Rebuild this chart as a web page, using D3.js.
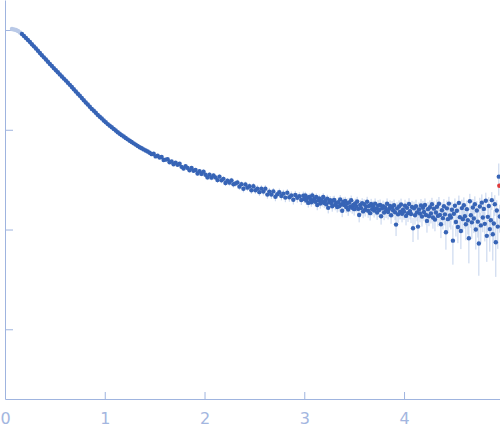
<!DOCTYPE html>
<meta charset="utf-8">
<head>
	<title>scattering curve</title>
</head>

<style>

body {
	margin: 0;
	background: #fff;
}

svg {
	display: block;
}

.axis path,
.axis line {
	stroke: #9fb4df;
	stroke-width: 1;
	fill: none;
}

.axis text {
	fill: #a3b6e0;
	font-family: "DejaVu Sans", sans-serif;
	font-size: 16px;
}

</style>

<body>

<svg class="chart" width="500" height="437"></svg>

<script src="https://cdnjs.cloudflare.com/ajax/libs/d3/7.8.5/d3.min.js"></script>
<script>

// points left out of the fit (drawn pale)
var excludedQ = [0.07, 0.09, 0.11, 0.13, 0.15];
var excludedI = [1.023, 1.012, 1.000, 0.977, 0.944];
var excludedSigma = [0.010, 0.010, 0.010, 0.010, 0.009];

// one flagged point at the end of the curve
var flaggedQ = [4.955];
var flaggedI = [0.0275];

// measured curve: q, intensity, error
var qValues = [
	0.17,0.19,0.21,0.23,0.25,0.27,0.29,0.31,0.33,0.35,
	0.37,0.39,0.41,0.43,0.45,0.47,0.49,0.51,0.53,0.55,
	0.57,0.59,0.61,0.63,0.65,0.67,0.69,0.71,0.73,0.75,
	0.77,0.79,0.81,0.83,0.85,0.87,0.89,0.91,0.93,0.95,
	0.97,0.99,1.01,1.03,1.05,1.07,1.09,1.11,1.13,1.15,
	1.17,1.19,1.21,1.23,1.25,1.27,1.29,1.31,1.33,1.35,
	1.37,1.39,1.41,1.43,1.45,1.47,1.49,1.51,1.53,1.55,
	1.57,1.59,1.61,1.63,1.65,1.67,1.69,1.71,1.73,1.75,
	1.77,1.79,1.81,1.83,1.85,1.87,1.89,1.91,1.93,1.95,
	1.97,1.99,2.01,2.03,2.05,2.07,2.09,2.11,2.13,2.15,
	2.17,2.19,2.21,2.23,2.25,2.27,2.29,2.31,2.33,2.35,
	2.37,2.39,2.41,2.43,2.45,2.47,2.49,2.51,2.53,2.55,
	2.57,2.59,2.61,2.63,2.65,2.67,2.69,2.71,2.73,2.75,
	2.77,2.79,2.81,2.83,2.85,2.87,2.89,2.91,2.93,2.95,
	2.97,2.99,
	3.00,3.01,3.02,3.03,3.04,3.05,3.06,3.07,3.08,3.09,
	3.10,3.11,3.12,3.13,3.14,3.15,3.16,3.17,3.18,3.19,
	3.20,3.21,3.22,3.23,3.24,3.25,3.26,3.27,3.28,3.29,
	3.30,3.31,3.32,3.33,3.34,3.35,3.36,3.37,3.38,3.39,
	3.40,3.41,3.42,3.43,3.44,3.45,3.46,3.47,3.48,3.49,
	3.50,3.51,3.52,3.53,3.54,3.55,3.56,3.57,3.58,3.59,
	3.60,3.61,3.62,3.63,3.64,3.65,3.66,3.67,3.68,3.69,
	3.70,3.71,3.72,3.73,3.74,3.75,3.76,3.77,3.78,3.79,
	3.80,3.81,3.82,3.83,3.84,3.85,3.86,3.87,3.88,3.89,
	3.90,3.91,3.92,3.93,3.94,3.95,3.96,3.97,3.98,3.99,
	4.00,4.01,4.02,4.03,4.04,4.05,4.06,4.07,4.08,4.09,
	4.10,4.11,4.12,4.13,4.14,4.15,4.16,4.17,4.18,4.19,
	4.20,4.21,4.22,4.23,4.24,4.25,4.26,4.27,4.28,4.29,
	4.30,4.31,4.32,4.33,4.34,4.35,4.36,4.37,4.38,4.39,
	4.40,4.41,4.42,4.43,4.44,4.45,4.46,4.47,4.48,4.49,
	4.50,4.51,4.52,4.53,4.54,4.55,4.56,4.57,4.58,4.59,
	4.60,4.61,4.62,4.63,4.64,4.65,4.66,4.67,4.68,4.69,
	4.70,4.71,4.72,4.73,4.74,4.75,4.76,4.77,4.78,4.79,
	4.80,4.81,4.82,4.83,4.84,4.85,4.86,4.87,4.88,4.89,
	4.90,4.91,4.92,4.93,4.94,4.95,4.96
];

var intensity = [
	0.912,0.871,0.832,0.794,0.759,0.721,0.686,0.652,0.620,0.589,
	0.560,0.532,0.506,0.481,0.457,0.437,0.415,0.395,0.377,0.359,
	0.342,0.326,0.311,0.296,0.282,0.268,0.255,0.242,0.230,0.219,
	0.208,0.198,0.188,0.179,0.170,0.162,0.155,0.148,0.141,0.135,
	0.130,0.124,0.119,0.114,0.110,0.106,0.102,0.0982,0.0946,0.0912,
	0.0883,0.0855,0.0828,0.0802,0.0776,0.0754,0.0731,0.0710,0.0689,0.0668,
	0.0652,0.0636,0.0620,0.0605,0.0589,0.0570,0.0575,0.0541,0.0549,0.0527,
	0.0533,0.0497,0.0502,0.0507,0.0473,0.0481,0.0451,0.0469,0.0445,0.0457,
	0.0425,0.0408,0.0432,0.0415,0.0392,0.0415,0.0389,0.0395,0.0365,0.0385,
	0.0361,0.0381,0.0354,0.0333,0.0355,0.0331,0.0349,0.0333,0.0313,0.0339,
	0.0311,0.0322,0.0293,0.0309,0.0295,0.0311,0.0284,0.0289,0.0296,0.0269,
	0.0285,0.0256,0.0283,0.0263,0.0272,0.0248,0.0272,0.0248,0.0257,0.0237,
	0.0257,0.0240,0.0257,0.0224,0.0240,0.0224,0.0241,0.0213,0.0226,0.0237,
	0.0217,0.0229,0.0209,0.0234,0.0211,0.0219,0.0199,0.0222,0.0208,0.0216,
	0.0198,0.0218,
	0.0202,0.0220,0.0195,0.0209,0.0185,0.0212,0.0202,0.0188,0.0220,0.0195,
	0.0204,0.0190,0.0212,0.0176,0.0196,0.0205,0.0182,0.0197,0.0189,0.0212,
	0.0184,0.0196,0.0179,0.0204,0.0165,0.0189,0.0197,0.0184,0.0171,0.0195,
	0.0198,0.0177,0.0185,0.0168,0.0188,0.0171,0.0200,0.0178,0.0154,0.0189,
	0.0176,0.0193,0.0168,0.0184,0.0159,0.0187,0.0170,0.0197,0.0165,0.0176,
	0.0160,0.0183,0.0171,0.0191,0.0161,0.0140,0.0176,0.0164,0.0184,0.0152,
	0.0179,0.0158,0.0170,0.0190,0.0154,0.0172,0.0146,0.0180,0.0160,0.0171,
	0.0155,0.0182,0.0162,0.0148,0.0173,0.0157,0.0176,0.0136,0.0163,0.0171,
	0.0148,0.0166,0.0155,0.0181,0.0150,0.0161,0.0172,0.0139,0.0168,0.0156,
	0.0175,0.0149,0.0112,0.0163,0.0142,0.0170,0.0151,0.0178,0.0144,0.0158,
	0.0151,0.0173,0.0137,0.0165,0.0146,0.0180,0.0153,0.0143,0.0168,0.0103,
	0.0163,0.0139,0.0171,0.0148,0.0107,0.0159,0.0145,0.0174,0.0135,0.0165,
	0.0150,0.0176,0.0140,0.0122,0.0160,0.0136,0.0167,0.0145,0.0179,0.0132,
	0.0162,0.0126,0.0148,0.0169,0.0137,0.0181,0.0140,0.0113,0.0156,0.0130,
	0.0171,0.0142,0.00938,0.0163,0.0127,0.0182,0.0138,0.0132,0.0158,0.00774,
	0.0144,0.0173,0.0119,0.0154,0.0106,0.0185,0.0133,0.00966,0.0164,0.0127,
	0.0175,0.0136,0.0113,0.0160,0.0124,0.00818,0.0192,0.0139,0.0118,0.0166,
	0.0129,0.0179,0.0100,0.0155,0.0120,0.00724,0.0170,0.0110,0.0186,0.0132,
	0.0161,0.0114,0.0194,0.00864,0.0134,0.0172,0.0101,0.0124,0.0197,0.00898,
	0.0115,0.0179,0.00745,0.0155,0.0107,0.0339,0.0135
];

var sigma = [
	0.009,0.009,0.008,0.008,0.008,0.007,0.007,0.007,0.006,0.006,
	0.006,0.005,0.005,0.005,0.005,0.0044,0.0042,0.0040,0.0038,0.0036,
	0.0034,0.0033,0.0031,0.0030,0.0028,0.0027,0.0026,0.0024,0.0023,0.0022,
	0.0021,0.0020,0.0019,0.0018,0.0017,0.0017,0.0016,0.0016,0.0016,0.0015,
	0.0026,0.0025,0.0025,0.0024,0.0024,0.0023,0.0023,0.0022,0.0022,0.0021,
	0.0021,0.0020,0.0020,0.0020,0.0019,0.0019,0.0019,0.0018,0.0018,0.0018,
	0.0018,0.0018,0.0018,0.0018,0.0018,0.0019,0.0018,0.0019,0.0018,0.0018,
	0.0019,0.0018,0.0018,0.0018,0.0018,0.0018,0.0018,0.0017,0.0018,0.0017,
	0.0018,0.0017,0.0018,0.0017,0.0018,0.0017,0.0018,0.0018,0.0018,0.0018,
	0.0020,0.0019,0.0020,0.0020,0.0019,0.0020,0.0019,0.0020,0.0020,0.0019,
	0.0020,0.0019,0.0020,0.0019,0.0020,0.0019,0.0020,0.0019,0.0020,0.0020,
	0.0019,0.0020,0.0019,0.0020,0.0020,0.0020,0.0021,0.0020,0.0021,0.0020,
	0.0021,0.0020,0.0021,0.0020,0.0021,0.0021,0.0020,0.0021,0.0021,0.0020,
	0.0021,0.0021,0.0021,0.0021,0.0021,0.0022,0.0021,0.0022,0.0022,0.0021,
	0.0022,0.0022,
	0.0018,0.0019,0.0018,0.0019,0.0019,0.0018,0.0019,0.0019,0.0018,0.0019,
	0.0019,0.0019,0.0018,0.0020,0.0019,0.0019,0.0020,0.0019,0.0019,0.0019,
	0.0020,0.0019,0.0020,0.0019,0.0020,0.0020,0.0019,0.0020,0.0020,0.0020,
	0.0020,0.0021,0.0020,0.0020,0.0021,0.0020,0.0021,0.0020,0.0021,0.0021,
	0.0021,0.0020,0.0021,0.0021,0.0022,0.0021,0.0021,0.0022,0.0021,0.0022,
	0.0022,0.0021,0.0022,0.0022,0.0021,0.0022,0.0022,0.0023,0.0022,0.0022,
	0.0022,0.0023,0.0022,0.0023,0.0023,0.0022,0.0023,0.0023,0.0022,0.0023,
	0.0023,0.0023,0.0024,0.0023,0.0024,0.0023,0.0024,0.0024,0.0023,0.0024,
	0.0024,0.0024,0.0025,0.0024,0.0024,0.0025,0.0024,0.0025,0.0025,0.0024,
	0.0025,0.0025,0.0026,0.0025,0.0025,0.0026,0.0025,0.0026,0.0026,0.0025,
	0.0026,0.0026,0.0027,0.0026,0.0027,0.0026,0.0027,0.0027,0.0026,0.0028,
	0.0027,0.0027,0.0028,0.0027,0.0028,0.0028,0.0027,0.0028,0.0028,0.0029,
	0.0028,0.0029,0.0028,0.0029,0.0029,0.0028,0.0029,0.0030,0.0029,0.0030,
	0.0030,0.0030,0.0029,0.0031,0.0030,0.0031,0.0030,0.0031,0.0031,0.0030,
	0.0031,0.0032,0.0031,0.0032,0.0032,0.0031,0.0033,0.0032,0.0032,0.0033,
	0.0033,0.0032,0.0034,0.0033,0.0033,0.0034,0.0034,0.0033,0.0035,0.0034,
	0.0035,0.0034,0.0035,0.0036,0.0035,0.0036,0.0036,0.0035,0.0037,0.0036,
	0.0037,0.0036,0.0037,0.0038,0.0037,0.0038,0.0038,0.0037,0.0039,0.0038,
	0.0039,0.0038,0.0040,0.0039,0.0040,0.0039,0.0041,0.0040,0.0040,0.0041,
	0.0041,0.0042,0.0041,0.0042,0.0043,0.0120,0.0042
];

var xTicks = [0, 1, 2, 3, 4];
var yTicks = [1, 0.1, 0.01, 0.001];

var svg = d3.select('.chart');

var x = d3.scaleLinear()
	.domain([0, 4.962])
	.range([5, 500]);

var y = d3.scaleLog()
	.domain([0.0002, 2])
	.range([399, 0]);

function rows(qs, is, es){
	return qs.map(function(q, i){
		return {q: q, I: is[i], err: es ? es[i] : 0};
	});
}

var points = rows(qValues, intensity, sigma);
var excluded = rows(excludedQ, excludedI, excludedSigma);
var flagged = rows(flaggedQ, flaggedI);

// axes (ticks point into the plot)
svg.append('g')
	.attr('class', 'axis')
	.attr('transform', 'translate(5,0)')
	.call(d3.axisLeft(y)
		.tickValues(yTicks)
		.tickSize(-8)
		.tickSizeOuter(0)
		.tickFormat(''));

svg.append('g')
	.attr('class', 'axis')
	.attr('transform', 'translate(0,399)')
	.call(d3.axisBottom(x)
		.tickValues(xTicks)
		.tickSize(-7)
		.tickSizeOuter(0)
		.tickPadding(14)
		.tickFormat(d3.format('d')));

// error bars
function drawErrors(data, color){
	svg.append('g')
		.selectAll('line')
		.data(data)
		.enter()
		.append('line')
		.attr('x1', function(d){ return x(d.q); })
		.attr('x2', function(d){ return x(d.q); })
		.attr('y1', function(d){ return y(d.I + d.err); })
		.attr('y2', function(d){ return y(Math.max(d.I - d.err, 0.0003)); })
		.attr('stroke', color)
		.attr('stroke-width', 1);
}

function drawDots(data, color){
	svg.append('g')
		.selectAll('circle')
		.data(data)
		.enter()
		.append('circle')
		.attr('cx', function(d){ return x(d.q); })
		.attr('cy', function(d){ return y(d.I); })
		.attr('r', 2.2)
		.attr('fill', color);
}

drawErrors(excluded, '#d5dff1');
drawErrors(points, '#c3d2ec');
drawDots(excluded, '#b9c9e7');
drawDots(points, '#3764b6');
drawDots(flagged, '#de3b3b');

</script>

</body>
</html>
